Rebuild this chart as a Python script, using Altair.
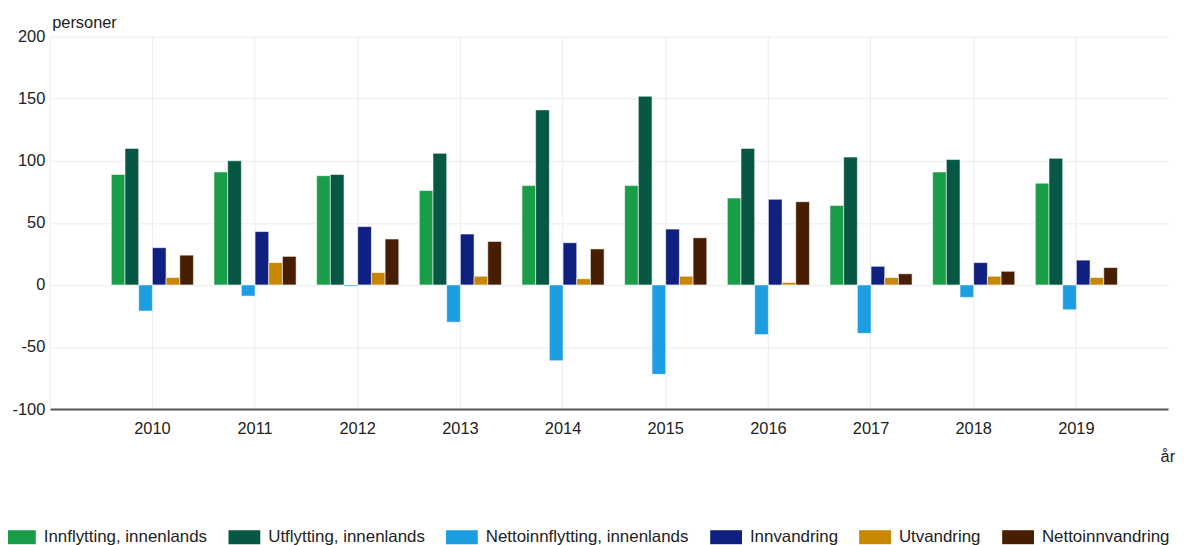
import altair as alt
import pandas as pd

years = ["2010", "2011", "2012", "2013", "2014", "2015", "2016", "2017", "2018", "2019"]
series = [
    "Innflytting, innenlands",
    "Utflytting, innenlands",
    "Nettoinnflytting, innenlands",
    "Innvandring",
    "Utvandring",
    "Nettoinnvandring",
]
colors = ["#1a9d49", "#075745", "#1d9de2", "#0f2080", "#c78800", "#471f00"]

innflytting = [89, 91, 88, 76, 80, 80, 70, 64, 91, 82]
utflytting = [110, 100, 89, 106, 141, 152, 110, 103, 101, 102]
nettoinnflytting = [-21, -9, -1, -30, -61, -72, -40, -39, -10, -20]
innvandring = [30, 43, 47, 41, 34, 45, 69, 15, 18, 20]
utvandring = [6, 18, 10, 7, 5, 7, 2, 6, 7, 6]
nettoinnvandring = [24, 23, 37, 35, 29, 38, 67, 9, 11, 14]

values = [innflytting, utflytting, nettoinnflytting, innvandring, utvandring, nettoinnvandring]
rows = []
for s, vals in zip(series, values):
    for y, v in zip(years, vals):
        rows.append({"år": y, "serie": s, "personer": v})
df = pd.DataFrame(rows)

FONT = "Liberation Sans"
TXT = "#222222"
GRID = "#e8edef"

chart = (
    alt.Chart(df)
    .mark_bar(stroke="white", strokeWidth=0.8, strokeOpacity=0.7)
    .encode(
        x=alt.X(
            "år:N",
            sort=years,
            scale=alt.Scale(paddingInner=0.2, paddingOuter=0.5465, align=0.549),
            axis=alt.Axis(
                title="år",
                labelAngle=0,
                ticks=False,
                bandPosition=0.5,
                grid=True,
                gridColor=GRID,
                domainColor="#555555",
                domainWidth=2,
                labelPadding=12,
                labelFont=FONT,
                labelFontSize=16.5,
                labelColor=TXT,
                titleFont=FONT,
                titleFontSize=16.5,
                titleFontWeight="normal",
                titleColor=TXT,
                titleAnchor="start",
                titleAlign="left",
                titleBaseline="middle",
                titleX=1118,
                titleY=48,
            ),
        ),
        xOffset=alt.XOffset(
            "serie:N",
            sort=series,
            scale=alt.Scale(paddingInner=0, paddingOuter=0),
        ),
        y=alt.Y(
            "personer:Q",
            scale=alt.Scale(domain=[-100, 200], nice=False),
            axis=alt.Axis(
                title="personer",
                values=[-100, -50, 0, 50, 100, 150, 200],
                labelExpr="'' + datum.value",
                ticks=False,
                grid=True,
                gridColor=GRID,
                domain=True,
                domainColor=GRID,
                labelPadding=5,
                labelFont=FONT,
                labelFontSize=16.5,
                labelColor=TXT,
                titleFont=FONT,
                titleFontSize=16.5,
                titleFontWeight="normal",
                titleColor=TXT,
                titleAngle=0,
                titleAlign="left",
                titleBaseline="middle",
                titleX=2,
                titleY=-14,
            ),
        ),
        color=alt.Color(
            "serie:N",
            sort=series,
            scale=alt.Scale(domain=series, range=colors),
            legend=alt.Legend(
                title=None,
                orient="none",
                direction="horizontal",
                legendX=-46,
                legendY=488,
                symbolType="M-1,-0.44H1V0.44H-1Z",
                symbolSize=1024,
                symbolStrokeWidth=0,
                symbolOpacity=1,
                labelOffset=8,
                labelLimit=0,
                columnPadding=21,
                labelFont=FONT,
                labelFontSize=17,
                labelColor=TXT,
            ),
        ),
    )
    .properties(
        width=1126,
        height=375,
        padding={"left": 42, "top": 27, "right": 8, "bottom": 135},
        autosize=alt.AutoSizeParams(type="none"),
    )
    .configure_view(stroke=None)
)

chart.save("out.html", embed_options={"renderer": "svg", "actions": False})
